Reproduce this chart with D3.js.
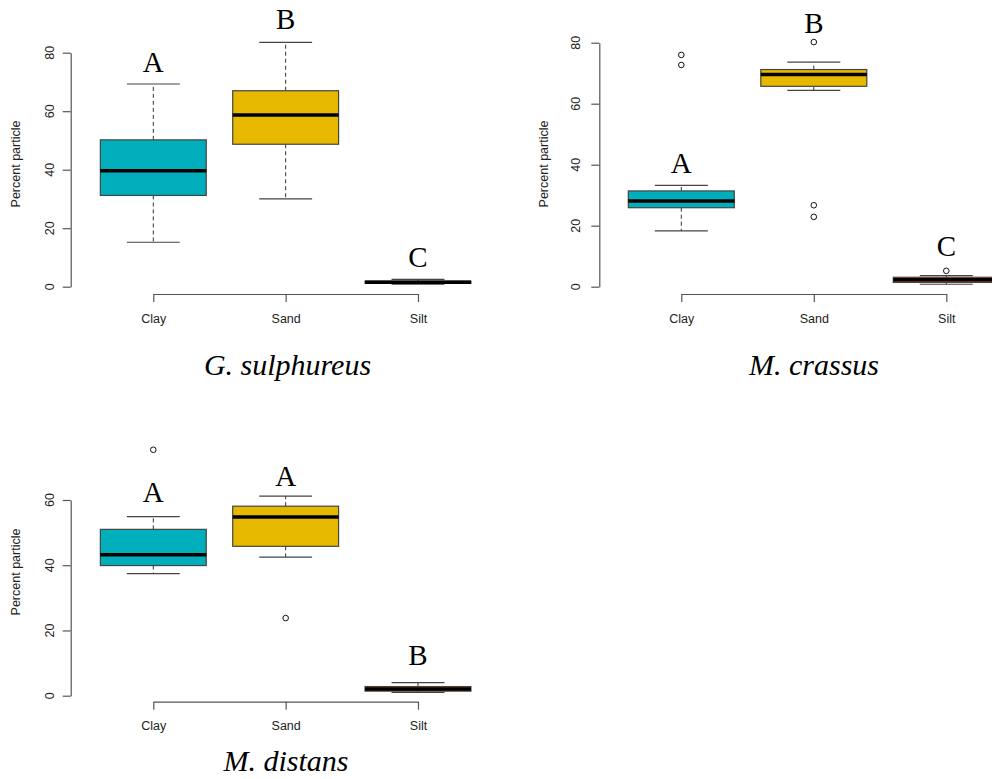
<!DOCTYPE html>
<html>
<head>
<meta charset="utf-8">
<script src="https://cdn.jsdelivr.net/npm/d3@7"></script>
<style>
  body { margin: 0; background: #fff; }
  svg { display: block; }
</style>
</head>
<body>
<svg id="chart" width="992" height="779"></svg>
<script>
// ---------- DATA ----------
const categories = ["Clay", "Sand", "Silt"];
const fillColors = ["#00AFBB", "#E7B800", "#FC4E07"];
const yLabel = "Percent particle";

// [lower whisker, Q1, median, Q3, upper whisker] per category
const gSulphureusStats = [[15.2, 31.2, 39.6, 50.2, 69.3], [30.0, 48.7, 58.7, 67.0, 83.5], [0.9, 1.2, 1.5, 1.9, 2.5]];
const gSulphureusOutliers = [[], [], []];
const gSulphureusLetters = ["A", "B", "C"];
const gSulphureusLetterY = [73.5, 88.0, 6.8];
const gSulphureusTicks = [0, 20, 40, 60, 80];

const mCrassusStats = [[18.3, 25.9, 28.1, 31.4, 33.2], [64.4, 65.7, 69.6, 71.2, 73.6], [0.8, 1.4, 2.3, 3.1, 3.6]];
const mCrassusOutliers = [[72.7, 76.0], [22.9, 26.7, 80.2], [5.2]];
const mCrassusLetters = ["A", "B", "C"];
const mCrassusLetterY = [37.2, 83.1, 10.1];
const mCrassusTicks = [0, 20, 40, 60, 80];

const mDistansStats = [[37.4, 39.9, 43.2, 51.0, 54.9], [42.5, 45.8, 54.8, 58.1, 61.2], [1.0, 1.4, 2.05, 2.8, 4.0]];
const mDistansOutliers = [[75.4], [23.8], []];
const mDistansLetters = ["A", "A", "B"];
const mDistansLetterY = [59.5, 64.3, 9.4];
const mDistansTicks = [0, 20, 40, 60];

const titles = ["G. sulphureus", "M. crassus", "M. distans"];

// ---------- DRAW ----------
const svg = d3.select("#chart");

function drawPanel(cfg) {
  const g = svg.append("g");
  const x = d3.scalePoint().domain(categories).range([cfg.xL, cfg.xR]);
  const step = x.step();
  const boxW = step * 0.8;
  const capW = boxW / 2;
  const y = d3.scaleLinear().domain([0, d3.max(cfg.ticks)]).range([cfg.y0, cfg.yTop]);
  const axisCol = "#555";
  const sans = "Liberation Sans, Arial, sans-serif";
  const serif = "Liberation Serif, Times New Roman, serif";

  // y axis
  const yAxis = d3.axisLeft(y).tickValues(cfg.ticks).tickSize(8).tickSizeOuter(0).tickFormat(d3.format("d"));
  const ya = g.append("g").attr("transform", `translate(${cfg.axisX},0)`).call(yAxis);
  ya.select(".domain").attr("stroke", axisCol).attr("stroke-width", 1.2);
  ya.selectAll(".tick line").attr("stroke", axisCol).attr("stroke-width", 1.2);
  ya.selectAll(".tick text").remove();
  g.selectAll(".ytl").data(cfg.ticks).enter().append("text")
    .attr("transform", d => `translate(${cfg.axisX - cfg.tickLabOff},${y(d)}) rotate(-90)`)
    .attr("text-anchor", "middle").attr("dy", "0.35em")
    .attr("font-family", sans).attr("font-size", 12.5)
    .attr("fill", "#222").text(d => d);

  // x axis
  const xAxis = d3.axisBottom(x).tickSize(8).tickSizeOuter(0);
  const xa = g.append("g").attr("transform", `translate(0,${cfg.axisY})`).call(xAxis);
  xa.select(".domain").attr("stroke", axisCol).attr("stroke-width", 1.2);
  xa.selectAll(".tick line").attr("stroke", axisCol).attr("stroke-width", 1.2);
  xa.selectAll(".tick text").attr("font-family", sans)
    .attr("font-size", 12.5).attr("fill", "#222").attr("dy", 0).attr("y", 28.5);

  // y title
  g.append("text").attr("transform", `translate(${cfg.axisX - cfg.titleOff},${cfg.yTitleY}) rotate(-90)`)
    .attr("text-anchor", "middle").attr("dy", "0.35em")
    .attr("font-family", sans).attr("font-size", 12.5)
    .attr("fill", "#222").text(yLabel);

  // boxes
  categories.forEach((c, i) => {
    const [lo, q1, med, q3, hi] = cfg.stats[i];
    const cx = x(c);
    const bg = g.append("g");
    // whiskers (dashed)
    bg.append("line").attr("x1", cx).attr("x2", cx).attr("y1", y(q3)).attr("y2", y(hi))
      .attr("stroke", "#333").attr("stroke-width", 1).attr("stroke-dasharray", "4,3");
    bg.append("line").attr("x1", cx).attr("x2", cx).attr("y1", y(q1)).attr("y2", y(lo))
      .attr("stroke", "#333").attr("stroke-width", 1).attr("stroke-dasharray", "4,3");
    // caps
    [lo, hi].forEach(v => {
      bg.append("line").attr("x1", cx - capW / 2).attr("x2", cx + capW / 2).attr("y1", y(v)).attr("y2", y(v))
        .attr("stroke", "#444").attr("stroke-width", 1.2);
    });
    // box
    bg.append("rect").attr("x", cx - boxW / 2).attr("width", boxW)
      .attr("y", y(q3)).attr("height", y(q1) - y(q3))
      .attr("fill", fillColors[i]).attr("stroke", "#444").attr("stroke-width", 1.2);
    // median
    bg.append("line").attr("x1", cx - boxW / 2).attr("x2", cx + boxW / 2).attr("y1", y(med)).attr("y2", y(med))
      .attr("stroke", "#000").attr("stroke-width", 3.5);
    // outliers
    cfg.outliers[i].forEach(v => {
      bg.append("circle").attr("cx", cx).attr("cy", y(v)).attr("r", 2.8)
        .attr("fill", "none").attr("stroke", "#111").attr("stroke-width", 1);
    });
    // letter
    g.append("text").attr("x", cx).attr("y", y(cfg.letterY[i]))
      .attr("text-anchor", "middle").attr("font-family", serif)
      .attr("font-size", 29).attr("fill", "#000").text(cfg.letters[i]);
  });

  // panel title
  g.append("text").attr("x", cfg.titleX).attr("y", cfg.titleY)
    .attr("text-anchor", "middle").attr("font-family", serif)
    .attr("font-style", "italic").attr("font-size", 30).attr("fill", "#000").text(cfg.title);
}

drawPanel({
  stats: gSulphureusStats, outliers: gSulphureusOutliers, letters: gSulphureusLetters, letterY: gSulphureusLetterY,
  ticks: gSulphureusTicks, title: titles[0],
  xL: 153.3, xR: 418, y0: 286.7, yTop: 52.7, axisX: 70.7, axisY: 294,
  tickLabOff: 21, titleOff: 55, yTitleY: 164, titleX: 287.5, titleY: 375
});
drawPanel({
  stats: mCrassusStats, outliers: mCrassusOutliers, letters: mCrassusLetters, letterY: mCrassusLetterY,
  ticks: mCrassusTicks, title: titles[1],
  xL: 681.3, xR: 946.3, y0: 286.7, yTop: 42.7, axisX: 599.3, axisY: 294,
  tickLabOff: 24, titleOff: 56, yTitleY: 164, titleX: 814, titleY: 375
});
drawPanel({
  stats: mDistansStats, outliers: mDistansOutliers, letters: mDistansLetters, letterY: mDistansLetterY,
  ticks: mDistansTicks, title: titles[2],
  xL: 153.3, xR: 418, y0: 695.7, yTop: 500, axisX: 70.7, axisY: 701.7,
  tickLabOff: 21, titleOff: 55, yTitleY: 572, titleX: 286, titleY: 771
});
</script>
</body>
</html>
